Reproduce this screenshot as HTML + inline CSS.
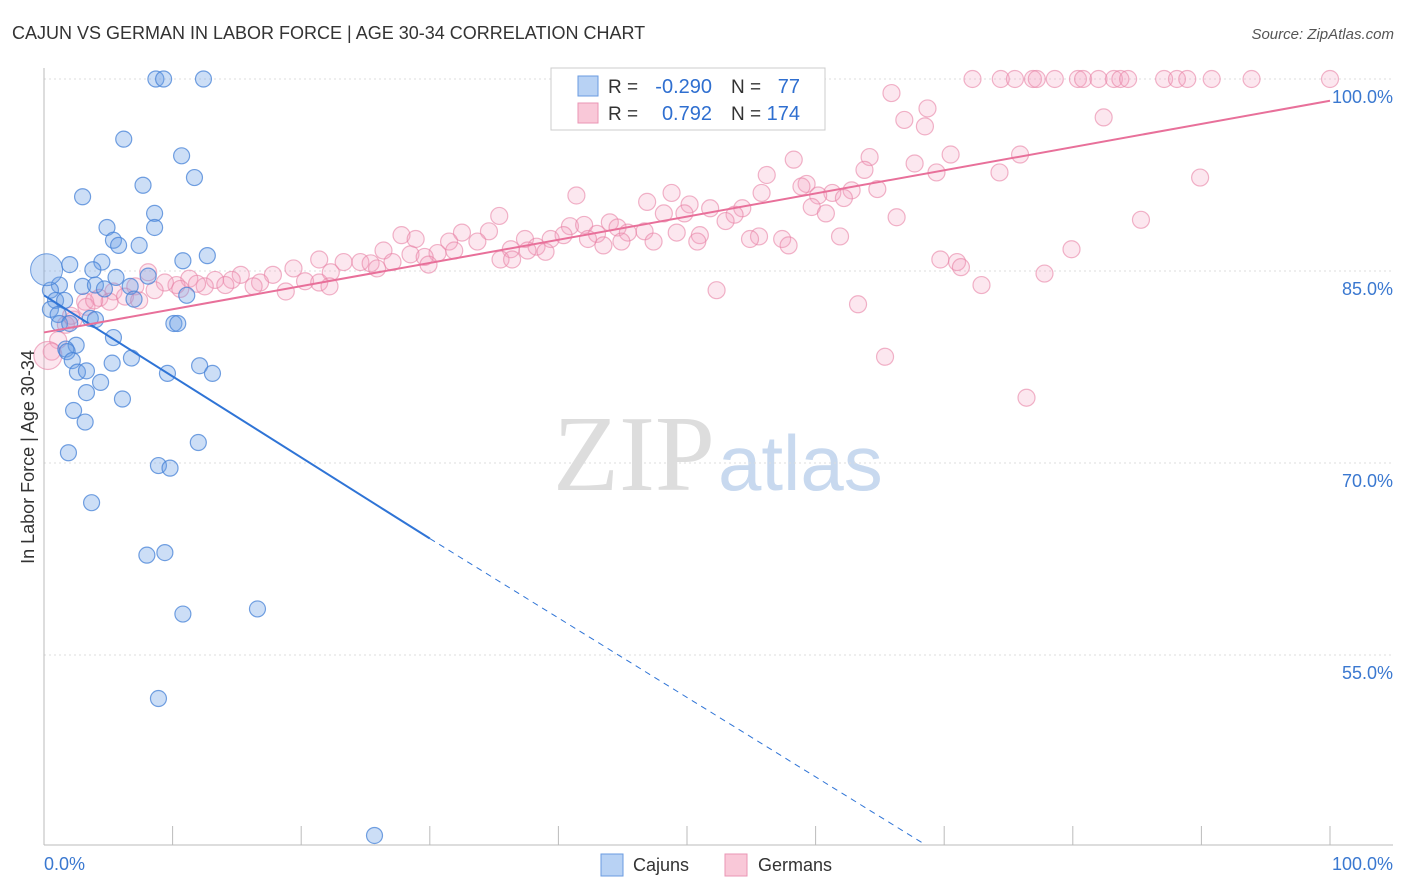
<!DOCTYPE html>
<html><head><meta charset="utf-8"><style>
body{margin:0;background:#fff;font-family:"Liberation Sans",sans-serif;}
svg{display:block}
</style></head><body>
<svg id="chart" width="1406" height="892">
<text x="12" y="39" font-size="18" fill="#333">CAJUN VS GERMAN IN LABOR FORCE | AGE 30-34 CORRELATION CHART</text>
<text x="1394" y="39" font-size="15" fill="#555" text-anchor="end" font-style="italic">Source: ZipAtlas.com</text>
<text x="715" y="490" font-size="108" fill="#ddd" text-anchor="end" font-family="Liberation Serif,serif">ZIP</text>
<text x="718" y="490" font-size="78" fill="#c8d9ef">atlas</text>
<g id="grid"></g><g id="axes"></g><g id="pts"></g><g id="lines"></g>
<text transform="translate(34,457) rotate(-90)" font-size="18" fill="#333" text-anchor="middle">In Labor Force | Age 30-34</text>
<g>
<rect x="551" y="68" width="274" height="62" fill="#fff" stroke="#ccc"/>
<rect x="578" y="76" width="20" height="20" fill="#b8d2f4" stroke="#6a9be0"/>
<rect x="578" y="103" width="20" height="20" fill="#f9c8d8" stroke="#ea96b4"/>
<text x="608" y="93" font-size="19" fill="#333">R =</text>
<text x="712" y="93" font-size="20" fill="#2f6fd0" text-anchor="end">-0.290</text>
<text x="731" y="93" font-size="19" fill="#333">N =</text>
<text x="800" y="93" font-size="20" fill="#2f6fd0" text-anchor="end">77</text>
<text x="608" y="120" font-size="19" fill="#333">R =</text>
<text x="712" y="120" font-size="20" fill="#2f6fd0" text-anchor="end">0.792</text>
<text x="731" y="120" font-size="19" fill="#333">N =</text>
<text x="800" y="120" font-size="20" fill="#2f6fd0" text-anchor="end">174</text>
</g>
<g>
<rect x="601" y="854" width="22" height="22" fill="#b8d2f4" stroke="#6a9be0"/>
<text x="633" y="871" font-size="18" fill="#333">Cajuns</text>
<rect x="725" y="854" width="22" height="22" fill="#f9c8d8" stroke="#ea96b4"/>
<text x="758" y="871" font-size="18" fill="#333">Germans</text>
</g>
</svg>
<script>
const yTicks=[100,85,70,55];
const xTickLabels=["0.0%","100.0%"];
const cajunX=[8.7,9.3,12.4,6.2,10.7,7.7,11.7,3.0,8.6,8.6,4.9,5.4,7.4,5.8,12.7,10.8,2.0,4.5,3.8,5.6,8.1,1.2,3.0,4.0,6.7,4.7,0.5,0.9,11.1,7.0,1.6,0.5,1.1,3.6,4.0,1.2,2.0,10.1,10.4,5.4,2.5,1.7,1.8,2.2,6.8,5.3,12.1,13.1,9.6,2.6,3.3,4.4,3.3,6.1,2.3,3.2,12.0,1.9,8.9,9.8,3.7,8.0,9.4,10.8,16.6,8.9,25.7];
const cajunY=[100,100,100,95.3,94.0,91.7,92.3,90.8,89.5,88.4,88.4,87.4,87.0,87.0,86.2,85.8,85.5,85.7,85.1,84.5,84.6,83.9,83.8,83.9,83.8,83.6,83.5,82.7,83.1,82.8,82.7,82.0,81.6,81.3,81.2,80.9,80.9,80.9,80.9,79.8,79.2,78.9,78.7,78.0,78.2,77.8,77.6,77.0,77.0,77.1,77.2,76.3,75.5,75.0,74.1,73.2,71.6,70.8,69.8,69.6,66.9,62.8,63.0,58.2,58.6,51.6,40.9];
const germanX=[72.2,74.4,75.5,76.9,77.2,78.6,80.4,80.8,82.0,83.2,83.7,84.3,87.1,88.1,88.9,90.8,93.9,100,65.9,68.7,66.9,68.5,82.4,64.2,70.5,75.9,58.3,67.7,63.8,69.4,74.3,56.2,89.9,59.3,58.9,64.8,61.3,62.8,55.8,41.4,48.8,46.9,50.2,51.8,60.2,62.2,59.7,60.8,54.3,53.7,48.2,49.8,35.4,66.3,85.3,53.0,44.0,40.9,42.0,44.6,46.7,45.4,43.0,49.2,51.0,55.6,40.4,32.5,34.6,27.8,61.9,54.9,57.4,42.3,44.9,47.4,50.8,37.4,39.4,33.7,31.5,28.9,57.9,43.5,38.3,36.3,39.0,37.6,31.9,26.4,30.6,28.5,29.6,79.9,35.5,36.4,23.3,21.4,24.6,25.4,27.1,69.7,71.0,71.3,29.9,25.9,19.4,22.3,77.8,17.8,15.3,11.3,8.1,13.3,14.6,16.8,20.3,21.4,12.5,14.1,16.3,10.3,9.4,11.9,7.1,8.6,10.6,18.8,22.2,72.9,5.4,6.3,4.3,3.2,5.1,52.3,63.3,2.3,1.7,1.1,0.6,65.4,76.4,3.3,2.1,7.4,3.9,0.3];
const germanY=[100,100,100,100,100,100,100,100,100,100,100,100,100,100,100,100,100,100,98.9,97.7,96.8,96.3,97.0,93.9,94.1,94.1,93.7,93.4,92.9,92.7,92.7,92.5,92.3,91.8,91.6,91.4,91.1,91.3,91.1,90.9,91.1,90.4,90.2,89.9,90.9,90.7,90.0,89.5,89.9,89.4,89.5,89.5,89.3,89.2,89.0,88.9,88.8,88.5,88.6,88.4,88.1,88.0,87.9,88.0,87.8,87.7,87.8,88.0,88.1,87.8,87.7,87.5,87.5,87.5,87.3,87.3,87.3,87.5,87.5,87.3,87.3,87.5,87.0,87.0,86.9,86.7,86.5,86.6,86.6,86.6,86.4,86.3,86.1,86.7,85.9,85.9,85.7,85.9,85.7,85.6,85.7,85.9,85.7,85.3,85.5,85.2,85.2,84.9,84.8,84.7,84.7,84.4,84.9,84.3,84.3,84.1,84.2,84.1,83.8,83.9,83.8,83.9,84.1,84.0,83.8,83.5,83.6,83.4,83.8,83.9,83.4,83.0,82.9,82.6,82.6,83.5,82.4,81.2,80.8,79.6,78.7,78.3,75.1,82.2,81.5,82.7,82.7,78.4];
const cajunLine=[[0,83.1],[30,64.1],[68.5,40.2]];
const germanLine=[[0,80.2],[100,98.3]];
const NS="http://www.w3.org/2000/svg";
const X=v=>44+v*12.86, Y=v=>79+(100-v)*12.8;
function mk(tag,attrs,parent){const e=document.createElementNS(NS,tag);for(const k in attrs)e.setAttribute(k,attrs[k]);parent.appendChild(e);return e;}
const grid=document.getElementById('grid'),axes=document.getElementById('axes'),pts=document.getElementById('pts'),lines=document.getElementById('lines');
yTicks.forEach(t=>{
 const l=mk('line',{x1:44,x2:1393,y1:Y(t),y2:Y(t),stroke:'#ddd','stroke-dasharray':'2,3'},grid);
 
 
 const tx=mk('text',{x:1393,y:Y(t)+24,'font-size':18,fill:'#3a78d0','text-anchor':'end'},axes);
 tx.textContent=t.toFixed(1)+'%';
 
 
});
mk('line',{x1:44,x2:44,y1:68,y2:845,stroke:'#bbb'},axes);
mk('line',{x1:44,x2:1393,y1:845,y2:845,stroke:'#bbb'},axes);
for(let i=0;i<=10;i++){mk('line',{x1:X(i*10),x2:X(i*10),y1:826,y2:845,stroke:'#bbb'},axes);}
const xl=mk('text',{x:44,y:870,'font-size':18,fill:'#3a78d0'},axes);xl.textContent=xTickLabels[0];


const xr=mk('text',{x:1393,y:870,'font-size':18,fill:'#3a78d0','text-anchor':'end'},axes);xr.textContent=xTickLabels[1];


germanX.forEach((x,i)=>{
 const c=mk('circle',{cx:X(x),cy:Y(germanY[i]),r:i==germanX.length-1?14:8.5,fill:'rgba(244,160,190,0.25)',stroke:'rgba(232,130,165,0.6)','stroke-width':1.2},pts);
 
 
});
cajunX.forEach((x,i)=>{
 const c=mk('circle',{cx:X(x),cy:Y(cajunY[i]),r:8,fill:'rgba(110,160,230,0.35)',stroke:'rgba(70,130,215,0.75)','stroke-width':1.2},pts);
 
 
});
const big=mk('circle',{cx:X(0.2),cy:Y(85.1),r:16,fill:'rgba(110,160,230,0.35)',stroke:'rgba(70,130,215,0.75)'},pts);


const c1=mk('line',{x1:X(cajunLine[0][0]),y1:Y(cajunLine[0][1]),x2:X(cajunLine[1][0]),y2:Y(cajunLine[1][1]),stroke:'#2f74d6','stroke-width':2},lines);


const c2=mk('line',{x1:X(cajunLine[1][0]),y1:Y(cajunLine[1][1]),x2:X(cajunLine[2][0]),y2:Y(cajunLine[2][1]),stroke:'#2f74d6','stroke-width':1,'stroke-dasharray':'6,5'},lines);


const g1=mk('line',{x1:X(germanLine[0][0]),y1:Y(germanLine[0][1]),x2:X(germanLine[1][0]),y2:Y(germanLine[1][1]),stroke:'#e8709a','stroke-width':2},lines);


</script>
</body></html>
